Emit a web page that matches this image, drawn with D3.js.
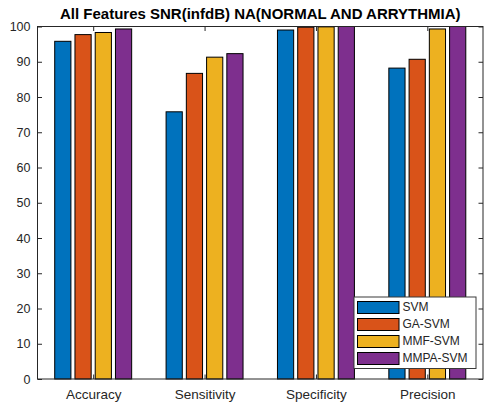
<!DOCTYPE html>
<html>
<head>
<meta charset="utf-8">
<script src="https://cdn.jsdelivr.net/npm/d3@7"></script>
<style>
  html, body { margin: 0; padding: 0; background: #fff; }
  svg { display: block; font-family: Arial, "Liberation Sans", sans-serif; }
</style>
</head>
<body>
<svg id="chart" width="486" height="407"></svg>
<script>
// Metrics on the x axis, classifiers as grouped bars
const categories = ["Accuracy", "Sensitivity", "Specificity", "Precision"];
const seriesNames = ["SVM", "GA-SVM", "MMF-SVM", "MMPA-SVM"];
const svmValues   = [95.8, 75.8, 99.0, 88.2];
const gaValues    = [97.7, 86.7, 99.8, 90.7];
const mmfValues   = [98.3, 91.3, 99.9, 99.3];
const mmpaValues  = [99.3, 92.3, 100, 100];
const yTicks = [0, 10, 20, 30, 40, 50, 60, 70, 80, 90, 100];
const colors = ["#0072BD", "#D95319", "#EDB120", "#7E2F8E"];
const titleText = "All Features SNR(infdB) NA(NORMAL AND ARRYTHMIA)";

const allSeries = [svmValues, gaValues, mmfValues, mmpaValues];

const svg = d3.select("#chart");
const margin = { left: 37.5, right: 3, top: 26.5, bottom: 28 };
const W = 486, H = 407;
const x0 = margin.left, x1 = W - margin.right;
const y0 = H - margin.bottom, y1 = margin.top;

// Numeric x positions 1..n with half-unit padding, as in a grouped bar plot
const x = d3.scaleLinear().domain([0.5, categories.length + 0.5]).range([x0, x1]);
const y = d3.scaleLinear().domain([0, 100]).range([y0, y1]);

const nS = allSeries.length;
const groupWidth = Math.min(0.8, nS / (nS + 1.5));
const slot = groupWidth / nS;
const barW = slot * 0.8;

// Bars
allSeries.forEach((vals, s) => {
  const off = -groupWidth / 2 + slot * (s + 0.5);
  svg.append("g").selectAll("rect")
    .data(vals)
    .join("rect")
    .attr("x", (d, i) => x(i + 1 + off - barW / 2))
    .attr("width", (d, i) => x(i + 1 + off + barW / 2) - x(i + 1 + off - barW / 2))
    .attr("y", d => y(d))
    .attr("height", d => y(0) - y(d))
    .attr("fill", colors[s])
    .attr("stroke", "#000")
    .attr("stroke-width", 1);
});

const axisColor = "#262626";
const tickLen = 4.5;

// Box around the plot area
svg.append("rect")
  .attr("x", x0).attr("y", y1)
  .attr("width", x1 - x0).attr("height", y0 - y1)
  .attr("fill", "none").attr("stroke", axisColor).attr("stroke-width", 1);

// Y axis (inward ticks on left and right)
const yAxisL = d3.axisLeft(y).tickValues(yTicks).tickSize(-tickLen).tickPadding(7);
const gyl = svg.append("g").attr("transform", `translate(${x0},0)`).call(yAxisL);
const yAxisR = d3.axisRight(y).tickValues(yTicks).tickSize(-tickLen).tickFormat("");
const gyr = svg.append("g").attr("transform", `translate(${x1},0)`).call(yAxisR);

// X axis (inward ticks on bottom and top)
const xTicks = categories.map((c, i) => i + 1);
const xAxisB = d3.axisBottom(x).tickValues(xTicks).tickSize(-tickLen).tickPadding(10.5)
  .tickFormat((d) => categories[d - 1]);
const gxb = svg.append("g").attr("transform", `translate(0,${y0})`).call(xAxisB);
const xAxisT = d3.axisTop(x).tickValues(xTicks).tickSize(-tickLen).tickFormat("");
const gxt = svg.append("g").attr("transform", `translate(0,${y1})`).call(xAxisT);

[gyl, gyr, gxb, gxt].forEach(g => {
  g.select(".domain").remove();
  g.selectAll(".tick line").attr("stroke", axisColor);
  g.selectAll("text")
    .attr("fill", axisColor)
    .style("font-family", "Arial, 'Liberation Sans', sans-serif");
});
gyl.selectAll("text").style("font-size", "12.5px");
gxb.selectAll("text").style("font-size", "13.5px");

// Title
svg.append("text")
  .attr("x", (x0 + x1) / 2)
  .attr("y", 19)
  .attr("text-anchor", "middle")
  .style("font-size", "15px")
  .style("font-weight", "bold")
  .attr("fill", "#000")
  .text(titleText);

// Legend
const lg = svg.append("g").attr("transform", "translate(354,297)");
lg.append("rect")
  .attr("x", 0).attr("y", 0).attr("width", 122).attr("height", 71.5)
  .attr("fill", "#fff").attr("stroke", "#3a3a3a").attr("stroke-width", 1);
seriesNames.forEach((name, i) => {
  const row = lg.append("g").attr("transform", `translate(3.5,${4.5 + i * 17})`);
  row.append("rect")
    .attr("x", 0).attr("y", 0).attr("width", 41.5).attr("height", 12)
    .attr("fill", colors[i]).attr("stroke", "#000").attr("stroke-width", 1);
  row.append("text")
    .attr("x", 45).attr("y", 6.5)
    .attr("dominant-baseline", "middle")
    .style("font-size", "12px")
    .attr("fill", axisColor)
    .text(name);
});
</script>
</body>
</html>
